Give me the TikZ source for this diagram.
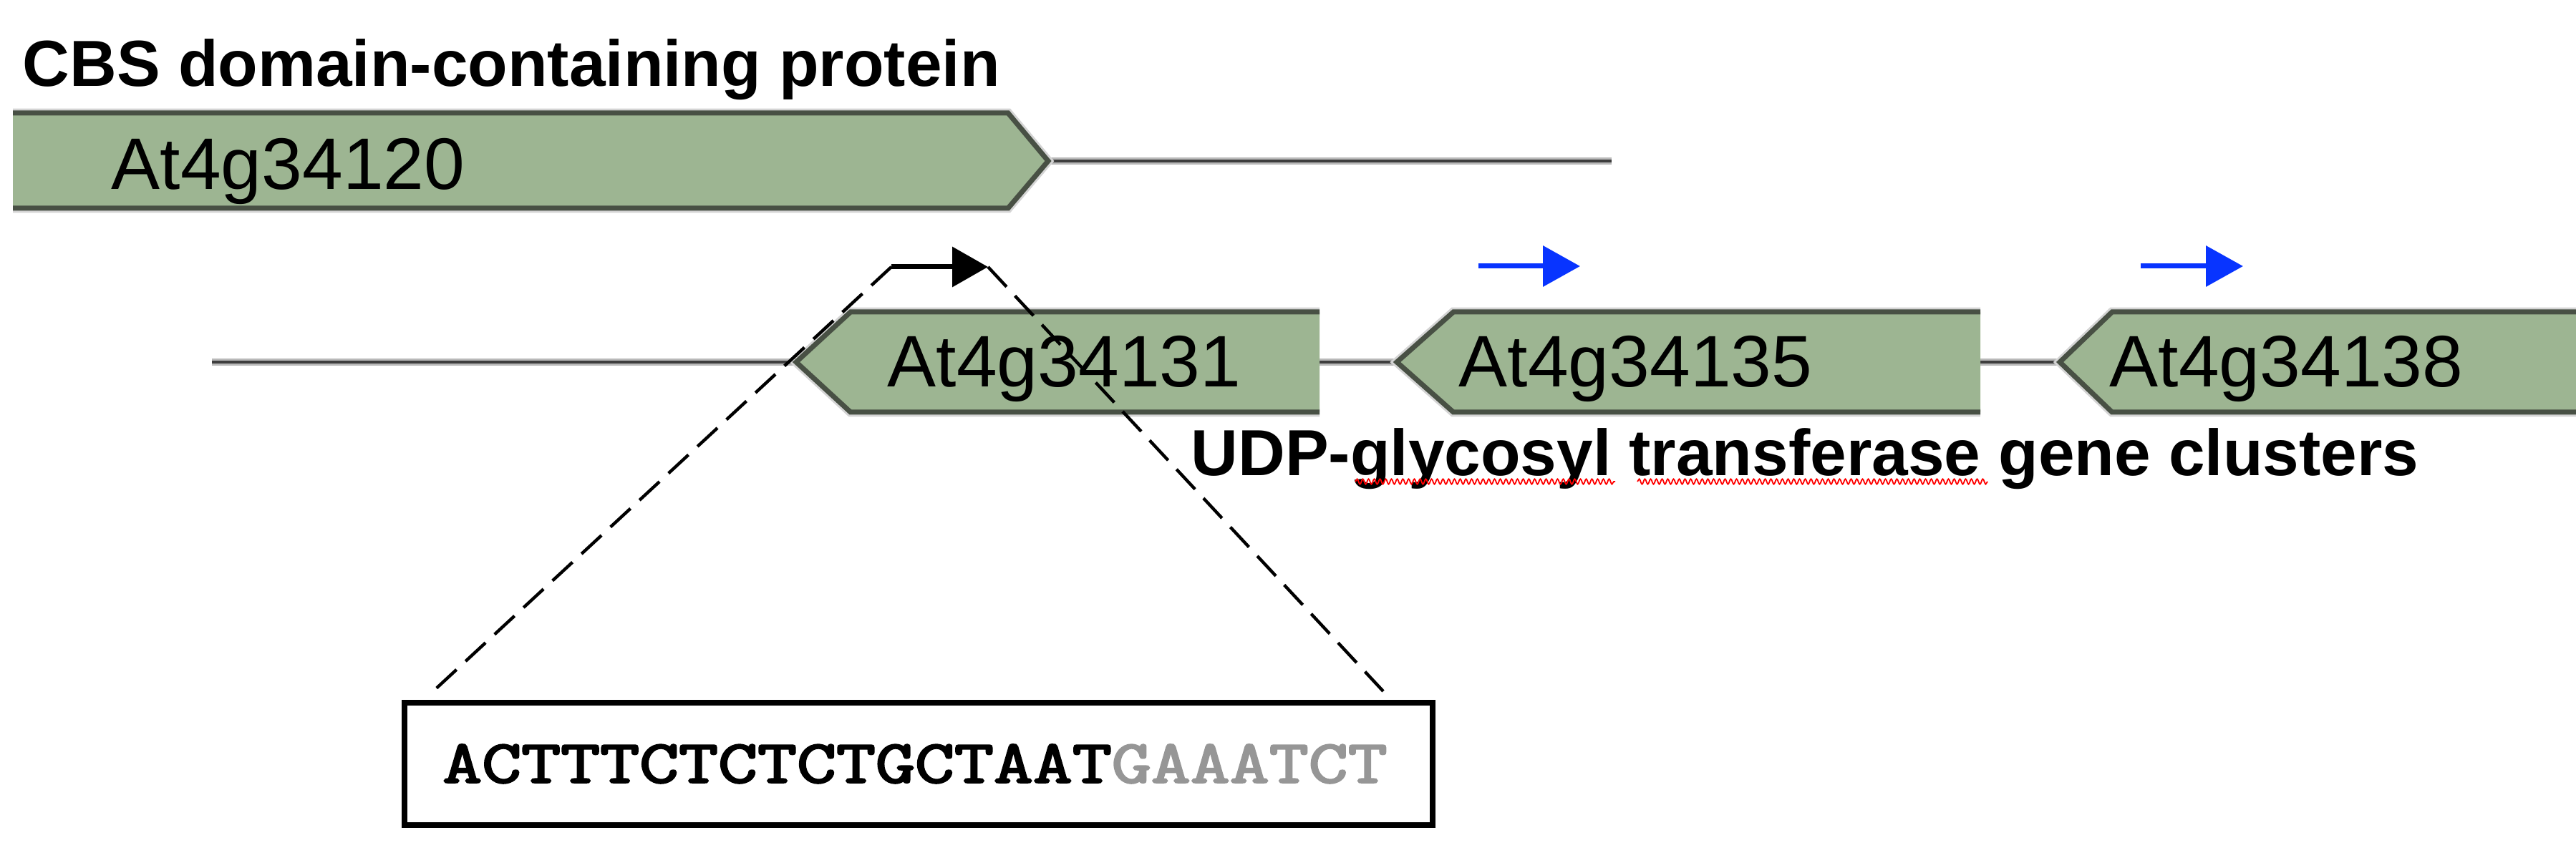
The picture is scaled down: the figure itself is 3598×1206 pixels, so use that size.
\documentclass[tikz,border=0pt]{standalone}
\usepackage{fontspec}
\setmainfont{Liberation Sans}
\newfontfamily\seqfont{Latin Modern Mono}[FakeBold=2.8]
\usetikzlibrary{arrows.meta,decorations.pathmorphing}
\definecolor{genegreen}{RGB}{157,181,146}
\definecolor{genedark}{RGB}{72,80,68}
\definecolor{halogrey}{RGB}{212,212,212}
\definecolor{dnadark}{RGB}{62,62,62}
\definecolor{dnahalo}{RGB}{185,185,185}
\definecolor{tssblue}{RGB}{8,52,255}
\definecolor{seqgrey}{RGB}{150,150,150}
\tikzset{
  genehalo/.style={draw=halogrey,line width=3.2pt,line join=miter},
  genefill/.style={fill=genegreen},
  geneborder/.style={draw=genedark,line width=1.75pt,line join=miter},
  dnahalo/.style={draw=dnahalo,line width=2.6pt},
  dnaline/.style={draw=dnadark,line width=1pt},
  genelabel/.style={inner sep=0pt,anchor=base west,font=\fontsize{25.5pt}{30pt}\selectfont},
  titlelabel/.style={inner sep=0pt,anchor=base west,font=\bfseries\fontsize{22.75pt}{27pt}\selectfont},
  zoomline/.style={draw=black,line width=1.1pt,dash pattern=on 9.5pt off 4.3pt},
  tssarrow/.style={draw=black,line width=1.75pt,-{Triangle[length=12.5pt,width=13.75pt]}},
  bluearrow/.style={draw=tssblue,line width=1.75pt,-{Triangle[length=13pt,width=14pt]}},
  seqbox/.style={draw=black,line width=2pt,minimum width=359pt,minimum height=42.75pt,inner sep=0pt},
  squiggle/.style={draw=red,line width=0.45pt,decorate,decoration={snake,amplitude=0.9pt,segment length=2pt}}
}
\begin{document}
\begin{tikzpicture}[x=0.25pt,y=-0.25pt]
\useasboundingbox (0,0) rectangle (3598,1206);
% named points
\coordinate (t1tip) at (1464,225);
\coordinate (t1end) at (2251,225);
\coordinate (rowstart) at (296,506);
\coordinate (aTip) at (1112,506);
\coordinate (aEnd) at (1843,506);
\coordinate (bTip) at (1951,506);
\coordinate (bEnd) at (2766,506);
\coordinate (cTip) at (2877,506);
% DNA lines
\draw[dnahalo] (t1tip) -- (t1end);
\draw[dnaline] (t1tip) -- (t1end);
\draw[dnahalo] (rowstart) -- (aTip) (aEnd) -- (bTip) (bEnd) -- (cTip);
\draw[dnaline] (rowstart) -- (aTip) (aEnd) -- (bTip) (bEnd) -- (cTip);
% gene At4g34120 (pointing right)
\draw[genehalo] (18,158) -- (1408,158) -- (t1tip) -- (1408,291) -- (18,291);
\fill[genefill] (18,158) -- (1408,158) -- (t1tip) -- (1408,291) -- (18,291) -- cycle;
\draw[geneborder] (18,158) -- (1408,158) -- (t1tip) -- (1408,291) -- (18,291);
% genes pointing left
\foreach \tip/\st/\en in {aTip/1188/1843, bTip/2030/2766, cTip/2950/3598}{
  \draw[genehalo] (\en,436) -- (\st,436) -- (\tip) -- (\st,576) -- (\en,576);
  \fill[genefill] (\en,436) -- (\st,436) -- (\tip) -- (\st,576) -- (\en,576) -- cycle;
  \draw[geneborder] (\en,436) -- (\st,436) -- (\tip) -- (\st,576) -- (\en,576);
}
% labels
\node[titlelabel] (cbs) at (31,121) {CBS domain-containing protein};
\node[genelabel] (g120) at (155,265) {At4g34120};
\node[genelabel] (g131) at (1239,541) {At4g34131};
\node[genelabel] (g135) at (2037,541) {At4g34135};
\node[genelabel] (g138) at (2946,541) {At4g34138};
\node[titlelabel] (udp) at (1663,665) {UDP-glycosyl transferase gene clusters};
\draw[squiggle] (1893,673) -- (2256,673);
\draw[squiggle] (2287,673) -- (2776,673);
% sequence box
\node[seqbox] (seq) at (1283,1067.5) {\seqfont\fontsize{21.3pt}{25pt}\selectfont\hspace*{-2.5pt}\scalebox{1.253}[1]{\textcolor{black}{ACTTTCTCTCTGCTAAT}\textcolor{seqgrey}{GAAATCT}}};
% TSS and zoom lines
\coordinate (tssL) at (1245,373);
\coordinate (tssR) at (1380,373);
\coordinate (zoomL) at (605,966);
\coordinate (zoomR) at (1932,966);
\draw[zoomline] (tssL) -- (zoomL);
\draw[zoomline] (tssR) -- (zoomR);
\draw[tssarrow] (tssL) -- (tssR);
% blue arrows
\coordinate (b1s) at (2065,372);
\coordinate (b1e) at (2207,372);
\coordinate (b2s) at (2990,372);
\coordinate (b2e) at (3133,372);
\draw[bluearrow] (b1s) -- (b1e);
\draw[bluearrow] (b2s) -- (b2e);
\end{tikzpicture}
\end{document}
